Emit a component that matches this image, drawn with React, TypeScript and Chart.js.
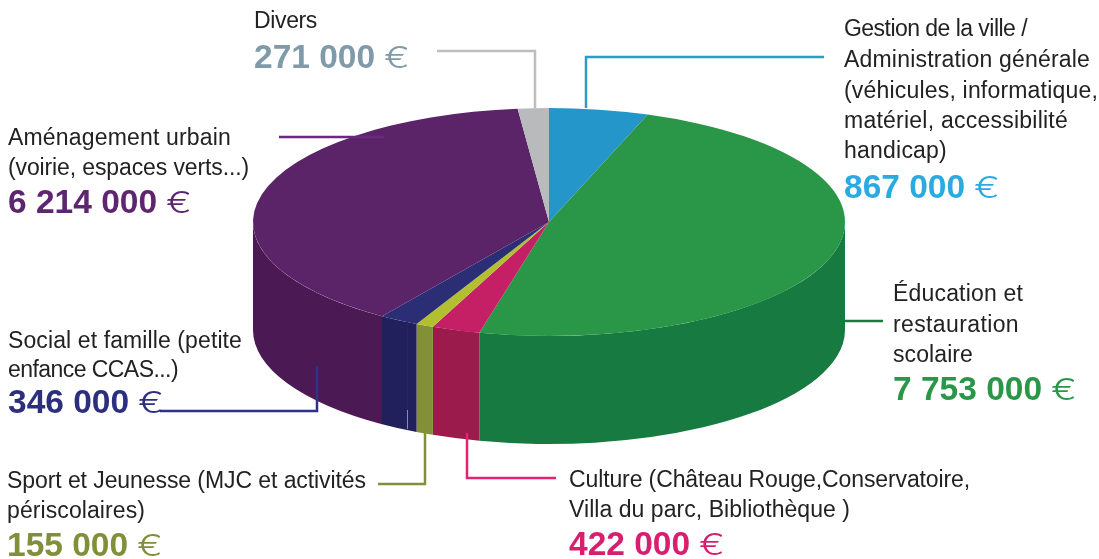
import React, { useEffect, useRef } from "react";
import { Chart, registerables } from "chart.js";

Chart.register(...registerables);

const categories = [
  "Gestion de la ville / Administration générale",
  "Éducation et restauration scolaire",
  "Culture",
  "Sport et Jeunesse",
  "Social et famille",
  "Aménagement urbain",
  "Divers",
];
const amounts = [867000, 7753000, 422000, 155000, 346000, 6214000, 271000];
const topColors = ["#2596c9", "#2a9748", "#c51f66", "#b2bf2e", "#2b2e74", "#5c2468", "#b9babc"];
const wallColors = ["#1f7da8", "#177a40", "#9a1b4c", "#839037", "#21205c", "#4b1a54", "#8f9092"];
const valueColors = ["#29abe2", "#2a9748", "#d6206f", "#7f9039", "#2b2f7e", "#5e2570", "#7f9aa8"];
const leaderColors = ["#2a9ccb", "#177a40", "#e0246f", "#7f9039", "#2f3285", "#682a7e", "#bdbdbd"];
const labelLines = [
  ["Gestion de la ville /", "Administration générale", "(véhicules, informatique,", "matériel, accessibilité", "handicap)"],
  ["Éducation et", "restauration", "scolaire"],
  ["Culture (Château Rouge,Conservatoire,", "Villa du parc, Bibliothèque )"],
  ["Sport et Jeunesse (MJC et activités", "périscolaires)"],
  ["Social et famille (petite", "enfance CCAS...)"],
  ["Aménagement urbain", "(voirie, espaces verts...)"],
  ["Divers"],
];

// layout of the annotations (x, baselines and widths of the text lines, baseline of the amount)
const labelX = [844, 893, 569, 7, 8, 8, 254];
const labelBaselines = [
  [36, 67, 98, 128, 158],
  [301, 332, 362],
  [487, 517],
  [488, 518],
  [348, 377],
  [145, 175],
  [28],
];
const labelWidths = [
  [183, 246, 254, 224, 103],
  [130, 126, 80],
  [401, 281],
  [359, 138],
  [234, 170],
  [223, 241],
  [63],
];
const valueBaselines = [198, 400, 555, 556, 413, 213, 68];
const leaders = [
  [[586, 108], [586, 57], [824, 57]],
  [[845, 321], [883, 321]],
  [[467, 433], [467, 478], [556, 478]],
  [[378, 484], [425, 484], [425, 427]],
  [[160, 411], [317, 411], [317, 366]],
  [[279, 137], [384, 137]],
  [[437, 51], [535, 51], [535, 108]],
];
const seams = [
  { color: "#2e1f66", pts: [[407, 320], [407, 410]] },
  { color: "#8d8ca8", pts: [[407, 410], [407, 429]] },
];

const RX = 296;
const RY = 114;
const DEPTH = 108;

const fmt = (v: number) => String(v).replace(/\B(?=(\d{3})+$)/g, " ");

const pie3d = {
  id: "pie3d",
  beforeDatasetsDraw(chart: any) {
    const ctx = chart.ctx;
    const arcs = chart.getDatasetMeta(0).data;
    const { x: cx, y: cy, outerRadius } = arcs[0];
    arcs.forEach((arc: any, i: number) => {
      const a0 = Math.max(arc.startAngle, 0);
      const a1 = Math.min(arc.endAngle, Math.PI);
      if (a1 <= a0) return;
      ctx.beginPath();
      ctx.ellipse(cx, cy, RX, RY, 0, a0, a1);
      ctx.ellipse(cx, cy + DEPTH, RX, RY, 0, a1, a0, true);
      ctx.closePath();
      ctx.fillStyle = wallColors[i];
      ctx.fill();
    });
    ctx.lineWidth = 1;
    seams.forEach((s) => {
      ctx.beginPath();
      ctx.moveTo(s.pts[0][0] + 0.5, s.pts[0][1]);
      ctx.lineTo(s.pts[1][0] + 0.5, s.pts[1][1]);
      ctx.strokeStyle = s.color;
      ctx.stroke();
    });
    ctx.save();
    ctx.translate(cx, cy);
    ctx.scale(RX / outerRadius, RY / outerRadius);
    ctx.translate(-cx, -cy);
  },
  afterDatasetsDraw(chart: any) {
    chart.ctx.restore();
  },
  afterDraw(chart: any) {
    const ctx = chart.ctx;
    ctx.save();
    ctx.lineWidth = 2.5;
    ctx.lineJoin = "miter";
    leaders.forEach((pts, i) => {
      ctx.beginPath();
      pts.forEach(([x, y], j) => (j ? ctx.lineTo(x, y) : ctx.moveTo(x, y)));
      ctx.strokeStyle = leaderColors[i];
      ctx.stroke();
    });
    ctx.textBaseline = "alphabetic";
    ctx.textAlign = "left";
    categories.forEach((_, i) => {
      ctx.font = '23px "Liberation Sans"';
      ctx.fillStyle = "#222222";
      labelLines[i].forEach((line, j) => {
        ctx.letterSpacing = "0px";
        const m = ctx.measureText(line).width;
        ctx.letterSpacing = `${(labelWidths[i][j] - m) / line.length}px`;
        ctx.fillText(line, labelX[i], labelBaselines[i][j]);
      });
      ctx.letterSpacing = "0px";
      const value = fmt(amounts[i]);
      ctx.font = 'bold 33.5px "Liberation Sans"';
      ctx.fillStyle = valueColors[i];
      ctx.fillText(value, labelX[i], valueBaselines[i]);
      const w = ctx.measureText(value).width;
      ctx.font = "300 30px Inter";
      ctx.save();
      ctx.translate(labelX[i] + w + 9, valueBaselines[i]);
      ctx.scale(1.28, 1);
      ctx.fillText("€", 0, 0);
      ctx.restore();
    });
    ctx.restore();
  },
};

export default function App() {
  const ref = useRef<HTMLCanvasElement>(null);
  useEffect(() => {
    document.body.style.margin = "0";
    const chart = new Chart(ref.current!, {
      type: "pie",
      data: {
        labels: categories,
        datasets: [{ data: amounts, backgroundColor: topColors, borderWidth: 0 }],
      },
      options: {
        animation: false,
        responsive: false,
        devicePixelRatio: 1,
        events: [],
        layout: { padding: { top: 0, bottom: 115, left: 0, right: 1 } },
        plugins: { legend: { display: false }, tooltip: { enabled: false } },
      },
      plugins: [pie3d],
    } as any);
    return () => chart.destroy();
  }, []);
  return <canvas ref={ref} width={1099} height={559} style={{ display: "block" }} />;
}
